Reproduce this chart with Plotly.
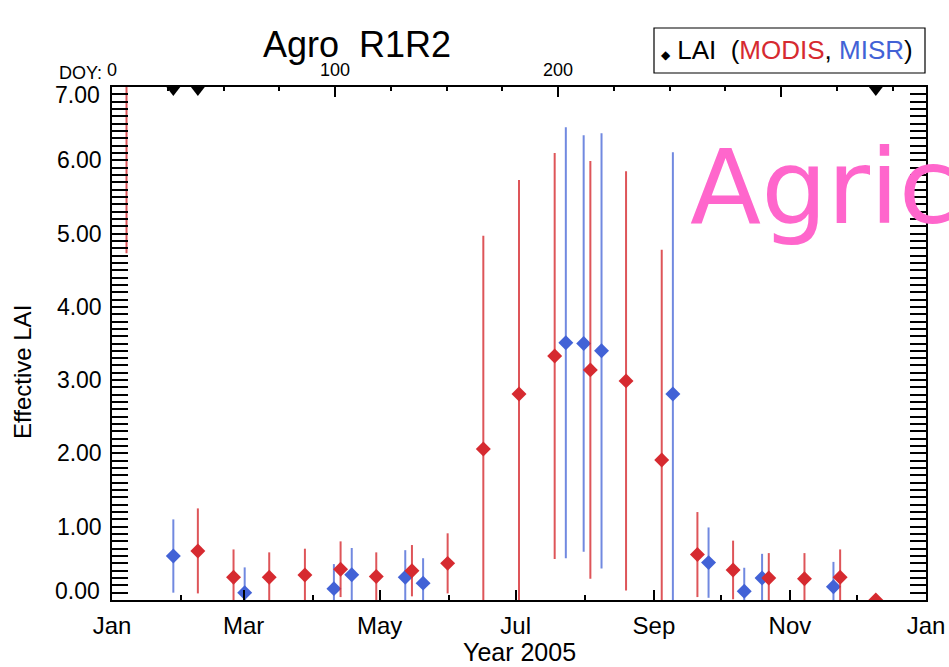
import plotly.graph_objects as go

# MODIS 16-day LAI composites (day of year, mean, std dev)
modis_doy = [6.5, 38.5, 54.5, 70.5, 86.5, 102.5, 118.5, 134.5, 150.5, 166.5, 182.5,
             198.5, 214.5, 230.5, 246.5, 262.5, 278.5, 294.5, 310.5, 326.5, 342.5]
modis_lai = [7.5, 0.67, 0.31, 0.31, 0.34, 0.42, 0.32, 0.40, 0.50, 2.06, 2.81,
             3.33, 3.14, 2.99, 1.91, 0.62, 0.41, 0.30, 0.29, 0.31, 0.0]
modis_sd = [2.77, 0.58, 0.38, 0.34, 0.36, 0.38, 0.33, 0.35, 0.41, 2.91, 2.92,
            2.77, 2.85, 2.86, 2.87, 0.58, 0.40, 0.34, 0.35, 0.38, 0.0]

# MISR LAI retrievals
misr_doy = [27.5, 59.5, 99.5, 107.5, 131.5, 139.5, 203.5, 211.5, 219.5, 251.5,
            267.5, 283.5, 291.5, 323.5]
misr_lai = [0.60, 0.10, 0.155, 0.345, 0.31, 0.23, 3.51, 3.50, 3.40, 2.81,
            0.51, 0.12, 0.30, 0.18]
misr_sd = [0.50, 0.345, 0.335, 0.365, 0.37, 0.34, 2.94, 2.84, 2.97, 3.30,
           0.48, 0.32, 0.33, 0.34]

# flagged dates marked along the top axis
flag_doy = [27.5, 38.5, 342.5]

# calendar axis
month_doy = [0, 31, 59, 90, 120, 151, 181, 212, 243, 273, 304, 334, 365]
month_names = ["Jan", "Feb", "Mar", "Apr", "May", "Jun", "Jul", "Aug", "Sep",
               "Oct", "Nov", "Dec", "Jan"]
doy_ticks = [0, 100, 200, 300]
doy_labels = ["0", "100", "200", ""]
lai_ticks = [0, 1, 2, 3, 4, 5, 6, 7]

RED = "#D62A30"
BLUE = "#4262D6"
FONT = "Liberation Sans, Arial, sans-serif"

fig = go.Figure()

fig.add_trace(go.Scatter(
    x=misr_doy, y=misr_lai, mode="markers", name="MISR",
    marker=dict(symbol="diamond", size=11.5, color=BLUE),
    error_y=dict(type="data", array=misr_sd, visible=True, width=0,
                 thickness=2, color="rgba(66,98,214,0.75)"),
))
fig.add_trace(go.Scatter(
    x=modis_doy, y=modis_lai, mode="markers", name="MODIS",
    marker=dict(symbol="diamond", size=11.5, color=RED),
    error_y=dict(type="data", array=modis_sd, visible=True, width=0,
                 thickness=2, color="rgba(214,42,48,0.8)"),
))
fig.add_trace(go.Scatter(
    x=flag_doy, y=[6.96] * len(flag_doy), xaxis="x2", mode="markers",
    marker=dict(symbol="triangle-down", size=12, color="black"),
    cliponaxis=False, hoverinfo="skip",
))

axis_common = dict(showgrid=False, zeroline=False, showline=True,
                   linecolor="black", linewidth=1.5, ticks="inside",
                   tickcolor="black", tickwidth=1.5, automargin=False)

# end labels of the LAI axis sit just inside the frame
lai_text = ["%.2f" % v for v in lai_ticks]
lai_text[0] = ""
lai_text[-1] = ""

fig.update_layout(
    width=949, height=667,
    margin=dict(l=112, r=23, t=87, b=67),
    paper_bgcolor="white", plot_bgcolor="white",
    showlegend=False,
    font=dict(family=FONT, color="black"),
    xaxis=dict(
        **axis_common, range=[0, 365],
        tickmode="array", tickvals=month_doy[::2], ticktext=month_names[::2],
        ticklen=10, tickfont=dict(size=24), ticklabelstandoff=3,
        minor=dict(tickvals=month_doy[1::2], ticks="inside", ticklen=5,
                   tickcolor="black", tickwidth=1.5, showgrid=False),
    ),
    xaxis2=dict(
        **axis_common, range=[0, 365], overlaying="x", side="top",
        tickmode="array", tickvals=doy_ticks, ticktext=doy_labels,
        ticklen=10, tickfont=dict(size=18), ticklabelstandoff=2,
        minor=dict(dtick=25, tick0=0, ticks="inside", ticklen=4,
                   tickcolor="black", tickwidth=1.5, showgrid=False),
    ),
    yaxis=dict(
        **axis_common, range=[0, 7], mirror="allticks",
        tickmode="array", tickvals=lai_ticks, ticktext=lai_text,
        ticklen=16, tickfont=dict(size=23), ticklabelstandoff=4,
        minor=dict(dtick=0.1, tick0=0, ticks="inside", ticklen=7,
                   tickcolor="black", tickwidth=1.5, showgrid=False),
    ),
)

W, H = 814.0, 513.0  # plot area in pixels


def px(x):
    return (x - 112) / W


def py(y):
    return (600 - y) / H


annotations = [
    dict(text="Agro\u00a0 R1R2", x=px(357), y=py(44), font=dict(size=36),
         xanchor="center", yanchor="middle"),
    dict(text="DOY:", x=px(104), y=py(73), font=dict(size=18),
         xanchor="right", yanchor="middle"),
    dict(text="7.00", x=px(102), y=py(95), font=dict(size=23),
         xanchor="right", yanchor="middle"),
    dict(text="0.00", x=px(102), y=py(591), font=dict(size=23),
         xanchor="right", yanchor="middle"),
    dict(text="Year 2005", x=px(519), y=py(652), font=dict(size=25),
         xanchor="center", yanchor="middle"),
    dict(text="Effective LAI", x=px(22), y=py(372), textangle=-90,
         font=dict(size=24), xanchor="center", yanchor="middle"),
    dict(text=('<span style="font-size:12px">\u25c6</span> LAI\u00a0 ('
               '<span style="color:%s">MODIS</span>, '
               '<span style="color:%s">MISR</span>)' % (RED, BLUE)),
         x=px(659), y=py(50.5), font=dict(size=26),
         xanchor="left", yanchor="middle"),
    dict(text="Agric", x=px(688), y=py(187),
         font=dict(size=104, color="#FF66CC", family="DejaVu Sans"),
         xanchor="left", yanchor="middle"),
]
for a in annotations:
    a.update(xref="paper", yref="paper", showarrow=False)
fig.update_layout(annotations=annotations)

fig.add_shape(type="rect", xref="paper", yref="paper",
              x0=px(654), x1=px(925), y0=py(73), y1=py(28),
              line=dict(color="black", width=1.2), fillcolor="rgba(0,0,0,0)",
              layer="above")

fig.write_html("out.html")
